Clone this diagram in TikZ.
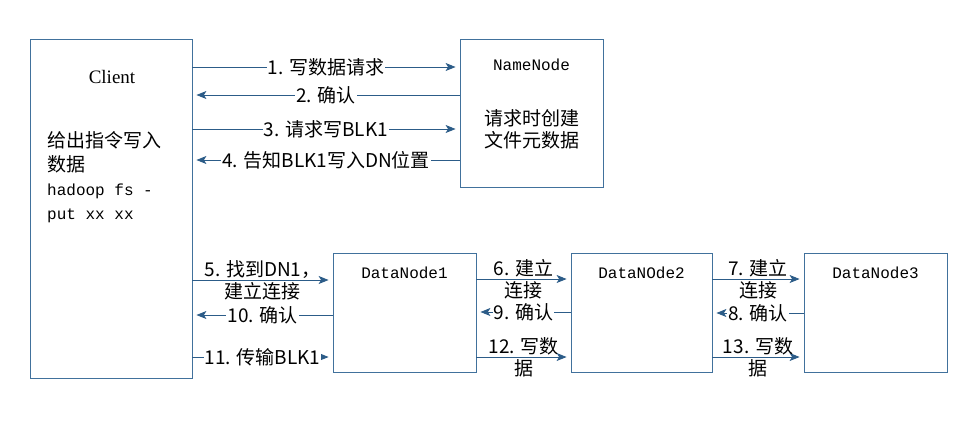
\documentclass[tikz,border=0pt]{standalone}
\usepackage{fontspec}
\setmainfont{Liberation Serif}
\setmonofont{Liberation Mono}
\newfontfamily\cjk{Noto Sans CJK SC}
\usetikzlibrary{arrows.meta}
\definecolor{boxblue}{RGB}{65,113,156}
\definecolor{flowblue}{RGB}{44,92,136}

\begin{document}
\begin{tikzpicture}[x=1pt,y=-1pt,
    server/.style ={draw=boxblue, line width=0.8pt, inner sep=0pt},
    flow/.style ={draw=flowblue, line width=1pt, -{Stealth[length=10pt,width=8pt,inset=2.5pt]}, shorten >=4pt},
    msg/.style ={font=\cjk\fontsize{19}{22}\selectfont, fill=white, inner sep=1pt},
    msgtwo/.style ={font=\cjk\fontsize{19}{22}\selectfont, align=center, inner sep=0pt},
    nodename/.style ={font=\ttfamily\fontsize{16}{20}\selectfont}]
   \useasboundingbox (0,0) rectangle (976,423);

   % boxes
   \node[server, minimum width=162pt, minimum height=339pt] (client) at (111,208.5) {};
   \node[server, minimum width=143pt, minimum height=148pt] (namenode) at (531.5,113) {};
   \node[server, minimum width=143pt, minimum height=119pt] (dn1) at (404.5,312.5) {};
   \node[server, minimum width=141pt, minimum height=119pt] (dn2) at (641.5,312.5) {};
   \node[server, minimum width=143pt, minimum height=119pt] (dn3) at (875.5,312.5) {};

   % texts in the boxes
   \node[font=\fontsize{19}{22}\selectfont] (clientname) at (112,77) {Client};
   \node[anchor=north west, align=left, inner sep=0pt, font=\fontsize{19}{24}\selectfont] (clientcmd) at (47,131)
      {{\cjk 给出指令写入}\\{\cjk 数据}\\{\ttfamily\fontsize{16}{24}\selectfont hadoop fs -}\\{\ttfamily\fontsize{16}{24}\selectfont put xx xx}};
   \node[nodename] (nnname) at (531.5,65) {NameNode};
   \node[align=center, font=\cjk\fontsize{19}{22}\selectfont] (nnmeta) at (531.5,129) {请求时创建\\文件元数据};
   \node[nodename] (dn1name) at (404.5,273) {DataNode1};
   \node[nodename] (dn2name) at (641.5,273) {DataNOde2};
   \node[nodename] (dn3name) at (875.5,273) {DataNode3};

   % client <-> namenode
   \draw[flow] (client.east |- 0,67) to node[msg] {1. 写数据请求} (namenode.west |- 0,67);
   \draw[flow] (namenode.west |- 0,95) to node[msg] {2. 确认} (client.east |- 0,95);
   \draw[flow] (client.east |- 0,129) to node[msg] {3. 请求写BLK1} (namenode.west |- 0,129);
   \draw[flow] (namenode.west |- 0,160) to node[msg] {4. 告知BLK1写入DN位置} (client.east |- 0,160);

   % client <-> datanode1
   \draw[flow] (client.east |- 0,280) to node[msgtwo] {5. 找到DN1，\\建立连接} (dn1.west |- 0,280);
   \draw[flow] (dn1.west |- 0,315) to node[msg] {10. 确认} (client.east |- 0,315);
   \draw[flow] (client.east |- 0,357) to node[msg] {11. 传输BLK1} (dn1.west |- 0,357);

   % datanode pipeline
   \draw[flow] (dn1.east |- 0,279) to node[msgtwo] {6. 建立\\连接} (dn2.west |- 0,279);
   \draw[flow] (dn2.west |- 0,312) to node[msg] {9. 确认} (dn1.east |- 0,312);
   \draw[flow] (dn1.east |- 0,357) to node[msgtwo] {12. 写数\\据} (dn2.west |- 0,357);
   \draw[flow] (dn2.east |- 0,279) to node[msgtwo] {7. 建立\\连接} (dn3.west |- 0,279);
   \draw[flow] (dn3.west |- 0,313) to node[msg] {8. 确认} (dn2.east |- 0,313);
   \draw[flow] (dn2.east |- 0,357) to node[msgtwo] {13. 写数\\据} (dn3.west |- 0,357);
\end{tikzpicture}
\end{document}
